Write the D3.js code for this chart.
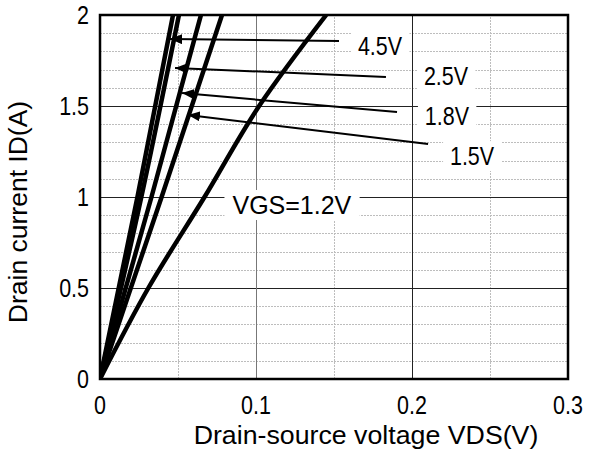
<!DOCTYPE html>
<html><head><meta charset="utf-8">
<script src="https://cdn.jsdelivr.net/npm/d3@7"></script>
<style>body{margin:0;background:#fff}svg{display:block}text{font-family:"Liberation Sans",Arial,sans-serif;fill:#000}</style>
</head><body>
<svg id="c" width="590" height="449"></svg>
<script>
// ---- data ----
const xTicks = [0, 0.1, 0.2, 0.3];
const yTicks = [0, 0.5, 1, 1.5, 2];
const xMinor = [0.05, 0.15, 0.25];
const yMinor = [0.1,0.2,0.3,0.4,0.6,0.7,0.8,0.9,1.1,1.2,1.3,1.4,1.6,1.7,1.8,1.9];
const seriesNames = ["4.5V", "2.5V", "1.8V", "1.5V", "1.2V"];
// each series: [VDS, ID] points
const s45 = [[0,0],[0.024,1],[0.0468,2]];
const s25 = [[0,0],[0.0265,1],[0.0506,2]];
const s18 = [[0,0],[0.033,1],[0.0647,2]];
const s15 = [[0,0],[0.0395,1],[0.0782,2]];
const s12 = [[0,0],[0.031,0.5],[0.067,1],[0.102,1.5],[0.145,2]];
const series = [s45, s25, s18, s15, s12];
// annotation labels: text, [VDS, ID]
const labelText = ["4.5V", "2.5V", "1.8V", "1.5V", "VGS=1.2V"];
const labelPos = [[0.1795,1.83],[0.2218,1.665],[0.2224,1.44],[0.2385,1.225],[0.123,0.956]];
// arrows: tail [VDS, ID] -> tip [VDS, ID]
const arrowTail = [[0.1532,1.857],[0.1833,1.659],[0.1904,1.467],[0.2103,1.291]];
const arrowTip  = [[0.0449,1.868],[0.0481,1.709],[0.0526,1.571],[0.0564,1.451]];
const xTitle = "Drain-source voltage VDS(V)";
const yTitle = "Drain current ID(A)";

// ---- chart ----
const svg = d3.select("#c");
const x = d3.scaleLinear().domain([0, 0.3]).range([100, 568]);
const y = d3.scaleLinear().domain([0, 2]).range([379, 15]);
const fmt = d => String(+d.toFixed(2));
const NUM_SX = 0.86; // digits in the reference are narrow

// minor grid
svg.append("g").selectAll("line").data(yMinor).join("line")
  .attr("x1", x(0)).attr("x2", x(0.3)).attr("y1", d => Math.round(y(d)) + 0.5).attr("y2", d => Math.round(y(d)) + 0.5)
  .attr("stroke", "#bdbdbd").attr("stroke-width", 1).attr("stroke-dasharray", "2,1");
svg.append("g").selectAll("line").data(xMinor).join("line")
  .attr("y1", y(0)).attr("y2", y(2)).attr("x1", d => Math.round(x(d)) + 0.5).attr("x2", d => Math.round(x(d)) + 0.5)
  .attr("stroke", "#bdbdbd").attr("stroke-width", 1).attr("stroke-dasharray", "2,1");
// major grid
svg.append("g").selectAll("line").data(yTicks.slice(1, -1)).join("line")
  .attr("x1", x(0)).attr("x2", x(0.3)).attr("y1", d => Math.round(y(d)) + 0.5).attr("y2", d => Math.round(y(d)) + 0.5)
  .attr("stroke", "#222").attr("stroke-width", 1);
svg.append("g").selectAll("line").data(xTicks.slice(1, -1)).join("line")
  .attr("y1", y(0)).attr("y2", y(2)).attr("x1", d => Math.round(x(d)) + 0.5).attr("x2", d => Math.round(x(d)) + 0.5)
  .attr("stroke", (d, i) => i === 0 ? "#777" : "#222").attr("stroke-width", 1);

// labels with white boxes drawn over grid
const labels = svg.append("g");
labels.selectAll("g").data(labelText).join("g")
  .attr("transform", (d, i) => `translate(${x(labelPos[i][0])},${y(labelPos[i][1])}) scale(${i === 4 ? 1 : NUM_SX},1)`)
  .each(function(d, i) {
    const g = d3.select(this);
    const t = g.append("text").attr("text-anchor", "middle").attr("dominant-baseline", "central")
      .attr("font-size", 25).text(d);
    const b = t.node().getBBox();
    g.insert("rect", "text")
      .attr("x", b.x - 8).attr("y", b.y - 1).attr("width", b.width + 16).attr("height", b.height + 2)
      .attr("fill", "#fff");
  });

// curves
const line = d3.line().x(d => x(d[0])).y(d => y(d[1])).curve(d3.curveMonotoneY);
svg.append("defs").append("clipPath").attr("id", "clip").append("rect")
  .attr("x", x(0)).attr("y", y(2)).attr("width", x(0.3) - x(0)).attr("height", y(0) - y(2));
svg.append("g").attr("clip-path", "url(#clip)").selectAll("path").data(series).join("path")
  .attr("d", line).attr("fill", "none").attr("stroke", "#000").attr("stroke-width", 4.5)
  .attr("stroke-linecap", "butt").attr("stroke-linejoin", "round");

// arrows
svg.append("defs").append("marker").attr("id", "ah")
  .attr("viewBox", "0 0 12 10").attr("refX", 12).attr("refY", 5)
  .attr("markerWidth", 12).attr("markerHeight", 10).attr("markerUnits", "userSpaceOnUse")
  .attr("orient", "auto")
  .append("path").attr("d", "M0,0 L12,5 L0,10 Z").attr("fill", "#000");
svg.append("g").selectAll("line").data(arrowTail).join("line")
  .attr("x1", d => x(d[0])).attr("y1", d => y(d[1]))
  .attr("x2", (d, i) => x(arrowTip[i][0])).attr("y2", (d, i) => y(arrowTip[i][1]))
  .attr("stroke", "#000").attr("stroke-width", 2).attr("marker-end", "url(#ah)");

// frame
svg.append("rect").attr("x", x(0)).attr("y", y(2)).attr("width", x(0.3) - x(0)).attr("height", y(0) - y(2))
  .attr("fill", "none").attr("stroke", "#000").attr("stroke-width", 2.5);

// tick labels
svg.append("g").selectAll("text").data(xTicks).join("text")
  .attr("transform", d => `translate(${x(d)},414) scale(${NUM_SX},1)`)
  .attr("text-anchor", "middle").attr("font-size", 25).text(fmt);
svg.append("g").selectAll("text").data(yTicks).join("text")
  .attr("transform", d => `translate(89,${y(d) + 9}) scale(${NUM_SX},1)`)
  .attr("text-anchor", "end").attr("font-size", 25).text(fmt);

// titles
svg.append("text").attr("transform", "translate(366,443.5) scale(1.07,1)")
  .attr("text-anchor", "middle").attr("font-size", 25).text(xTitle);
svg.append("text").attr("transform", "translate(27,212) rotate(-90)").attr("text-anchor", "middle").attr("font-size", 26.5).text(yTitle);
</script>
</body></html>
